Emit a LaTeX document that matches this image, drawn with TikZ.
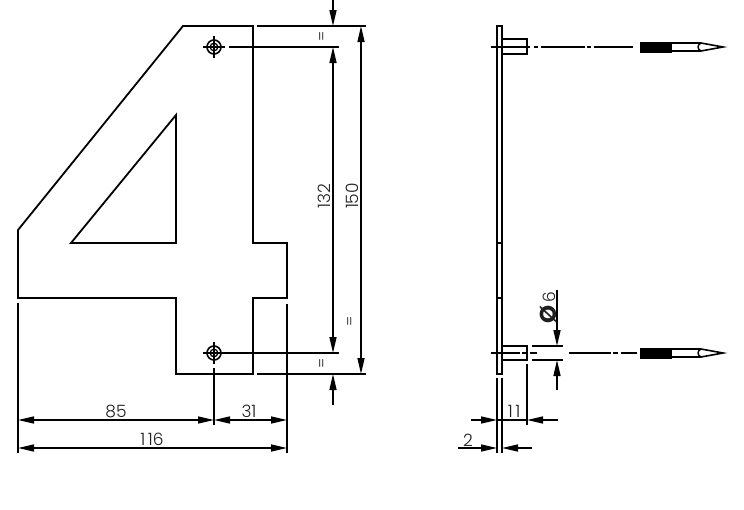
\documentclass[tikz,border=0pt]{standalone}
\usepackage{fontspec}
\setmainfont[UprightFont={* Light},BoldFont={* Bold}]{Poppins}
\usetikzlibrary{arrows.meta}
\definecolor{ink}{gray}{0.0}
\definecolor{lab}{gray}{0.12}
\tikzset{
  tipshape/.tip={Triangle[length=16pt,width=7pt]},
  outline/.style={line width=1.8pt,ink,line join=miter},
  thin line/.style={line width=1.5pt,ink},
  dimline/.style={line width=1.5pt,ink,{tipshape}-{tipshape}},
  leader/.style={line width=1.5pt,ink,-{tipshape}},
  dimlabel/.style={font=\fontsize{17}{17}\selectfont,text=lab,inner sep=0pt},
  eqlabel/.style={font=\fontsize{15}{15}\selectfont,text=lab,inner sep=0pt},
}
\begin{document}
\begin{tikzpicture}[x=1pt,y=-1pt]
\useasboundingbox[fill=white] (0,0) rectangle (744,509);
% figure 4
\draw[outline] (183,26) -- (253,26) -- (253,243) -- (287,243) -- (287,298) -- (253,298) -- (253,374) -- (176,374) -- (176,298) -- (18,298) -- (18,230) -- cycle;
\draw[outline] (176,115) -- (176,243) -- (71,243) -- cycle;
% holes
\foreach \cy in {47,353}{
  \draw[line width=1.6pt,ink] (214,\cy) circle (7);
  \draw[line width=1.3pt,ink] (214,\cy) circle (3.8);
  \draw[line width=1.3pt,ink] (214,\cy-11) -- (214,\cy+11) (203,\cy) -- (225,\cy);
}
% extension lines
\draw[thin line] (257,26) -- (366,26);
\draw[thin line] (229,47) -- (339,47);
\draw[thin line] (221,353) -- (339,353);
\draw[thin line] (257,374) -- (366,374);
\draw[thin line] (18,303) -- (18,453);
\draw[thin line] (214,368) -- (214,425);
\draw[thin line] (287,304) -- (287,453);
% vertical dims
\draw[leader] (333,0) -- (333,26);
\draw[dimline] (333,47) -- (333,353);
\draw[leader] (333,405) -- (333,374);
\draw[dimline] (361,26) -- (361,374);
% horizontal dims
\draw[dimline] (18,420) -- (214,420);
\draw[dimline] (214,420) -- (287,420);
\draw[dimline] (18,448) -- (287,448);
% labels
\node[dimlabel] (l85) at (116,411) {85};
\node[dimlabel] (l31) at (249,411) {31};
\node[dimlabel] (l116) at (152,439) {1\kern2.5pt 16};
\node[dimlabel,rotate=90] (l132) at (324,196) {132};
\node[dimlabel,rotate=90] (l150) at (352,196) {150};
\node[eqlabel,rotate=90] (e1) at (323,36) {=};
\node[eqlabel,rotate=90] (e2) at (351,321) {=};
\node[eqlabel,rotate=90] (e3) at (323,363) {=};
% side view plate
\draw[outline] (497,26) rectangle (502,374);
\draw[thin line] (497,243) -- (502,243) (497,298) -- (502,298);
% pins
\draw[outline] (502,39) -- (527,39) -- (527,54) -- (502,54);
\draw[outline] (502,346) -- (527,346) -- (527,360) -- (502,360);
% centre lines
\draw[thin line] (491,47) -- (530,47) (534,47) -- (538,47) (541,47) -- (585,47) (587,47) -- (591,47) (594,47) -- (633,47);
\draw[thin line] (491,353) -- (520,353) (522,353) -- (527,353) (530,353) -- (537,353) (569,353) -- (611,353) (613,353) -- (618,353) (621,353) -- (637,353);
% nails
\foreach \cy in {47,353}{
  \fill[ink] (640,\cy-5.5) rectangle (672,\cy+5.5);
  \draw[line width=1.6pt,ink,line join=miter] (672,\cy-4) -- (701,\cy-4) -- (723,\cy) -- (701,\cy+4) -- (672,\cy+4);
  \draw[line width=1.4pt,ink] (701,\cy-4) .. controls (697,\cy-2) and (697,\cy+2) .. (701,\cy+4);
}
% side view dims
\draw[thin line] (532,346) -- (563,346) (532,360) -- (563,360);
\draw[leader] (557,290) -- (557,346);
\draw[leader] (557,390) -- (557,360);
\node[dimlabel,rotate=90,font=\fontsize{23}{23}\selectfont\bfseries] (lphi) at (548,314) {\char"00D8};
\node[dimlabel,rotate=90] (l6) at (549,297) {6};
\draw[thin line] (497,378) -- (497,453) (502,378) -- (502,453);
\draw[thin line] (527,364) -- (527,425);
\draw[leader] (471,420) -- (497,420);
\draw[thin line] (497,420) -- (527,420);
\draw[leader] (558,420) -- (527,420);
\draw[leader] (458,448) -- (497,448);
\draw[leader] (532,448) -- (502,448);
\node[dimlabel] (l11) at (514,411) {1\kern2.5pt 1};
\node[dimlabel] (l2) at (468,440) {2};
\end{tikzpicture}
\end{document}
